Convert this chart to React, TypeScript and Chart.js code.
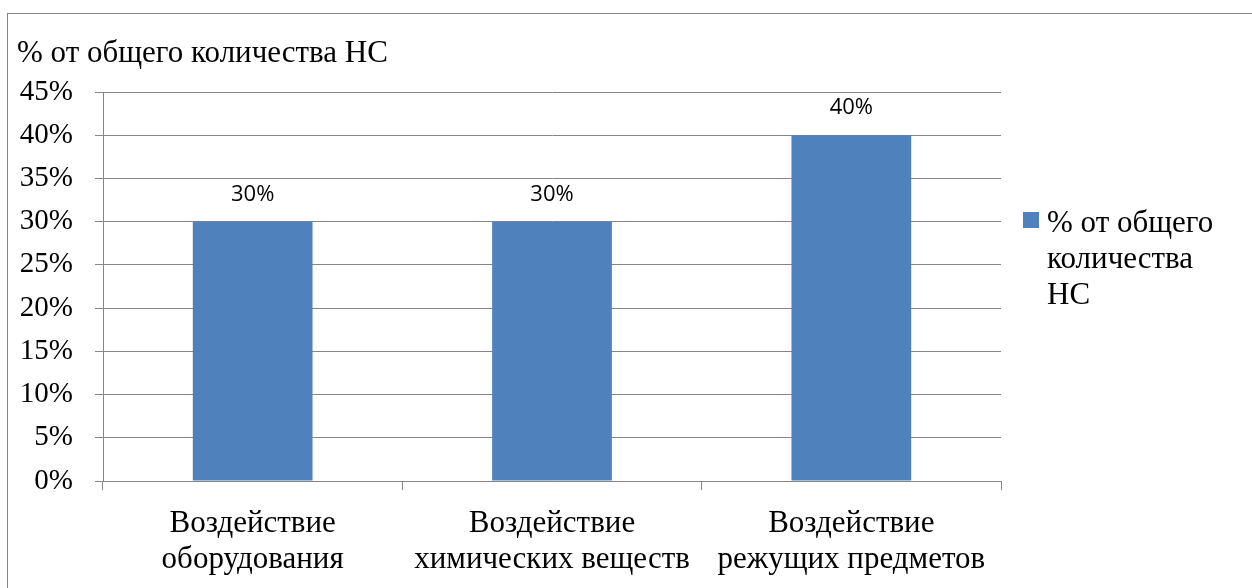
import { useEffect, useRef } from "react";
import { Chart, registerables } from "chart.js";

Chart.register(...registerables);

// Categories (multi-line axis labels), values in percent, axis setup
const categories: string[][] = [
  ["Воздействие", "оборудования"],
  ["Воздействие", "химических веществ"],
  ["Воздействие", "режущих предметов"],
];
const seriesName = "% от общего количества НС";
const shares: number[] = [30, 30, 40];
const legendLines: string[] = ["% от общего", "количества", "НС"];
const yMax = 45;
const yStep = 5;

const BAR_COLOR = "#4f81bd";
const LINE_COLOR = "#868686";
const SERIF = '"Liberation Serif", "Times New Roman", serif';
const SANS = '"Open Sans", "Liberation Sans", sans-serif';

const decorations = {
  id: "decorations",
  beforeDraw(chart: any) {
    const ctx = chart.ctx;
    ctx.save();
    ctx.fillStyle = "#ffffff";
    ctx.fillRect(0, 0, chart.width, chart.height);
    ctx.strokeStyle = LINE_COLOR;
    ctx.lineWidth = 1;
    ctx.strokeRect(7.5, 13.5, chart.width + 40, chart.height + 40);
    ctx.restore();
  },
  afterDatasetsDraw(chart: any) {
    const ctx = chart.ctx;
    const meta = chart.getDatasetMeta(0);
    ctx.save();
    ctx.font = `22px ${SANS}`;
    ctx.fillStyle = "#000";
    ctx.textAlign = "center";
    ctx.textBaseline = "middle";
    meta.data.forEach((bar: any, i: number) => {
      ctx.fillText(`${shares[i]}%`, bar.x, bar.y - 27);
    });
    ctx.restore();
  },
  afterDraw(chart: any) {
    const ctx = chart.ctx;
    const area = chart.chartArea;
    ctx.save();
    ctx.fillStyle = "#000";
    ctx.font = `31px ${SERIF}`;
    ctx.textAlign = "left";
    ctx.textBaseline = "alphabetic";
    // chart title, top-left
    ctx.fillText(seriesName, 17, 62);
    // legend at the right of the plot area
    const lx = area.right + 22;
    ctx.fillStyle = BAR_COLOR;
    ctx.fillRect(lx, 212, 16, 16);
    ctx.fillStyle = "#000";
    legendLines.forEach((line, i) => {
      ctx.fillText(line, lx + 24, 232 + i * 36);
    });
    ctx.restore();
  },
};

export default function App() {
  const canvasRef = useRef<HTMLCanvasElement | null>(null);

  useEffect(() => {
    const canvas = canvasRef.current;
    if (!canvas) return;
    const chart = new Chart(canvas, {
      type: "bar",
      data: {
        labels: categories,
        datasets: [
          {
            label: seriesName,
            data: shares,
            backgroundColor: BAR_COLOR,
            borderWidth: 0,
            categoryPercentage: 1,
            barPercentage: 0.4,
          },
        ],
      },
      options: {
        responsive: false,
        animation: false,
        devicePixelRatio: 1,
        layout: { padding: { left: 0, top: 92, right: 251, bottom: 0 } },
        plugins: {
          legend: { display: false },
          title: { display: false },
          tooltip: { enabled: false },
        },
        scales: {
          x: {
            offset: true,
            grid: {
              display: true,
              drawOnChartArea: false,
              drawTicks: true,
              tickLength: 9,
              color: LINE_COLOR,
              offset: true,
            },
            border: { display: true, color: LINE_COLOR },
            ticks: {
              color: "#000",
              padding: 16,
              maxRotation: 0,
              autoSkip: false,
              font: { family: SERIF, size: 31, lineHeight: 36 / 31 },
            },
            afterFit: (scale: any) => {
              scale.height = 107;
            },
          },
          y: {
            min: 0,
            max: yMax,
            ticks: {
              stepSize: yStep,
              color: "#000",
              padding: 22,
              font: { family: SERIF, size: 29 },
              callback: (v: any) => `${v}%`,
            },
            grid: {
              color: LINE_COLOR,
              tickLength: 8,
              drawTicks: true,
            },
            border: { display: true, color: LINE_COLOR },
            afterFit: (scale: any) => {
              scale.width = 103;
            },
          },
        },
      },
      plugins: [decorations],
    });
    return () => chart.destroy();
  }, []);

  return (
    <div style={{ position: "fixed", left: 0, top: 0, width: 1252, height: 588 }}>
      <canvas ref={canvasRef} width={1252} height={588} style={{ display: "block" }} />
    </div>
  );
}
